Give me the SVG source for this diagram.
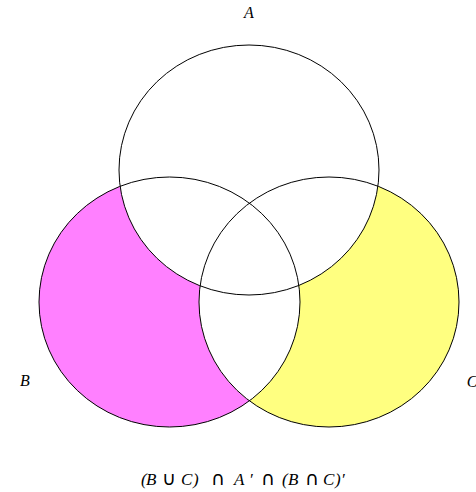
<svg xmlns="http://www.w3.org/2000/svg" width="476" height="492" viewBox="0 0 476 492">
<style>
.outline{fill:none;stroke:#000;stroke-width:1}
.lbl{font-family:"Liberation Serif",serif;font-style:italic;font-size:16px;fill:#000}
.cap{font-size:17px}
.sym{font-family:"DejaVu Sans",sans-serif;font-style:normal;font-size:19px}
</style>
<defs>
<clipPath id="clipB"><ellipse cx="169.5" cy="302" rx="130.5" ry="125"/></clipPath>
</defs>
<rect width="476" height="492" fill="#fff"/>
<g id="fills">
<ellipse cx="169.5" cy="302" rx="130.5" ry="125" fill="#ff80ff"/>
<ellipse cx="329" cy="302" rx="130" ry="125" fill="#ffff80"/>
<ellipse cx="249" cy="170" rx="130" ry="125" fill="#fff"/>
<ellipse cx="329" cy="302" rx="130" ry="125" fill="#fff" clip-path="url(#clipB)"/>
</g>
<g id="A"><ellipse class="outline" cx="249" cy="170" rx="130" ry="125"/><text class="lbl" x="249" y="18" text-anchor="middle">A</text></g>
<g id="B"><ellipse class="outline" cx="169.5" cy="302" rx="130.5" ry="125"/><text class="lbl" x="25" y="386" text-anchor="middle">B</text></g>
<g id="C"><ellipse class="outline" cx="329" cy="302" rx="130" ry="125"/><text class="lbl" x="472" y="387" text-anchor="middle">C</text></g>
<g id="caption"><text class="lbl cap" y="485"><tspan x="141">(</tspan><tspan x="146">B</tspan><tspan class="sym" x="162">∪</tspan><tspan x="181">C</tspan><tspan x="193">)</tspan><tspan class="sym" x="211">∩</tspan><tspan x="234">A</tspan><tspan x="249">′</tspan><tspan class="sym" x="261">∩</tspan><tspan x="282">(</tspan><tspan x="288">B</tspan><tspan class="sym" x="305">∩</tspan><tspan x="323">C</tspan><tspan x="335">)</tspan><tspan x="341">′</tspan></text></g>
</svg>
